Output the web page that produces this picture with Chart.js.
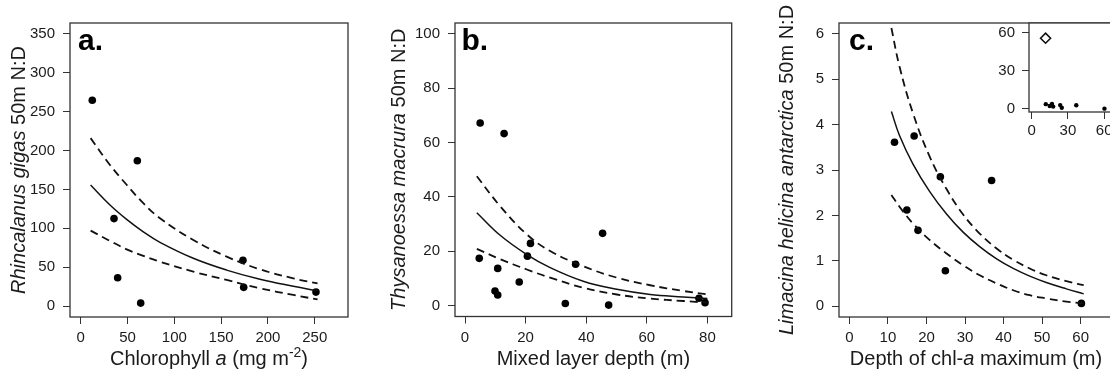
<!DOCTYPE html>
<html>
<head>
<meta charset="utf-8">
<script src="https://cdn.jsdelivr.net/npm/chart.js@4.4.1/dist/chart.umd.min.js"></script>
<style>
  html, body { margin: 0; padding: 0; background: #fff; }
  body { width: 1110px; height: 375px; overflow: hidden; position: relative; }
  canvas { position: absolute; top: 0; }
</style>
</head>
<body>
<canvas id="chartA" width="370" height="375" style="left:0"></canvas>
<canvas id="chartB" width="370" height="375" style="left:370px"></canvas>
<canvas id="chartC" width="380" height="375" style="left:740px"></canvas>
<canvas id="chartInset" width="130" height="140" style="left:990px"></canvas>
<script>
// a. Rhincalanus gigas vs chlorophyll a
const aChl   = [12.4, 60.5, 35.6, 39.5, 64.1, 173.3, 174.1, 251.3];
const aRatio = [264.6, 186.9, 112.5, 36.5, 3.9, 58.9, 24.1, 18.0];
const aCurveX = [10.6, 31.3, 49.1, 66.9, 84.7, 120.3, 155.9, 191.5, 227.1, 253.0];
const aFit    = [155.6, 130.0, 111.5, 95.5, 82.0, 61.5, 46.3, 34.5, 25.5, 19.7];
const aUpper  = [216.0, 181.5, 156.0, 132.3, 113.0, 85.0, 63.6, 47.3, 35.7, 29.2];
const aLower  = [97.1, 83.8, 73.0, 64.6, 57.1, 44.3, 33.6, 22.9, 14.3, 8.6];
const aXTicks = [0, 50, 100, 150, 200, 250];
const aYTicks = [0, 50, 100, 150, 200, 250, 300, 350];

// b. Thysanoessa macrura vs mixed layer depth
const bMld   = [5.0, 12.9, 4.7, 10.8, 9.9, 10.8, 17.9, 21.6, 20.6, 36.5, 45.4, 33.1, 47.4, 77.2, 79.2];
const bRatio = [67.2, 63.3, 17.4, 13.7, 5.4, 3.9, 8.7, 22.9, 18.2, 15.2, 26.6, 0.8, 0.2, 2.7, 1.1];
const bCurveX = [3.9, 11.6, 20.4, 28.1, 39.0, 50.1, 61.1, 72.0, 80.0];
const bFit    = [34.2, 25.9, 18.8, 14.0, 9.0, 6.0, 4.1, 3.2, 2.6];
const bUpper  = [47.6, 36.6, 26.2, 20.1, 14.5, 10.3, 7.5, 5.4, 4.1];
const bLower  = [20.9, 17.1, 13.3, 10.3, 6.6, 4.1, 2.6, 1.7, 1.1];
const bXTicks = [0, 20, 40, 60, 80];
const bYTicks = [0, 20, 40, 60, 80, 100];

// c. Limacina helicina antarctica vs depth of chl-a maximum
const cDepth = [11.7, 16.8, 23.6, 36.9, 14.9, 17.8, 24.9, 60.2];
const cRatio = [3.61, 3.75, 2.85, 2.77, 2.12, 1.67, 0.78, 0.06];
const cCurveX = [10.9, 13.0, 16.5, 20.8, 25.2, 29.5, 33.8, 38.2, 42.5, 46.8, 51.1, 56.3, 60.8];
const cFit    = [4.29, 3.76, 3.13, 2.53, 2.03, 1.63, 1.31, 1.04, 0.83, 0.66, 0.52, 0.38, 0.27];
const cUpper  = [6.13, 5.28, 4.25, 3.30, 2.58, 2.02, 1.60, 1.27, 1.02, 0.83, 0.68, 0.55, 0.46];
const cLower  = [2.45, 2.19, 1.82, 1.46, 1.16, 0.90, 0.68, 0.50, 0.35, 0.24, 0.17, 0.10, 0.06];
const cXTicks = [0, 10, 20, 30, 40, 50, 60];
const cYTicks = [0, 1, 2, 3, 4, 5, 6];
// inset: same stations plus the outlier
const cOutlierX = [11.5];
const cOutlierY = [55.6];
const insetTicks = [0, 30, 60];

const FONT = '"Liberation Sans", Arial, sans-serif';
const TEXT = '#1b1b1b';
const LINE = '#333';

const pts = (xs, ys) => xs.map((x, i) => ({ x: x, y: ys[i] }));

function axis(min, max, ticks, size, isX, pad) {
    return {
        type: 'linear',
        min: min,
        max: max,
        afterBuildTicks: (s) => { s.ticks = ticks.map(v => ({ value: v })); },
        afterFit: (s) => { if (isX) { s.height = size; } else { s.width = size; } },
        grid: { drawOnChartArea: false, drawTicks: true, tickLength: 7, color: LINE, lineWidth: 1 },
        border: { display: false },
        ticks: { color: TEXT, font: { family: FONT, size: 15 }, padding: pad, maxRotation: 0, autoSkip: false }
    };
}

function scatterSets(xs, ys, curveX, fit, upper, lower) {
    const curve = (data, dash, w) => ({
        data: pts(curveX, data),
        showLine: true,
        pointRadius: 0,
        borderColor: '#111',
        borderWidth: w,
        borderDash: dash,
        tension: 0.4
    });
    return [
        curve(fit, [], 1.5),
        curve(upper, [8, 5], 1.8),
        curve(lower, [8, 5], 1.8),
        { data: pts(xs, ys), pointRadius: 3.8, backgroundColor: '#000', borderWidth: 0, showLine: false }
    ];
}

// text made of pieces (italic words, superscripts)
function richText(ctx, parts, x, y, rotate) {
    ctx.save();
    let total = 0;
    parts.forEach(p => {
        ctx.font = (p.i ? 'italic ' : '') + (p.s || 20) + 'px ' + FONT;
        p.w = ctx.measureText(p.t).width;
        total += p.w;
    });
    ctx.translate(x, y);
    if (rotate) ctx.rotate(-Math.PI / 2);
    ctx.fillStyle = TEXT;
    ctx.textBaseline = 'alphabetic';
    ctx.textAlign = 'left';
    let cx = -total / 2;
    parts.forEach(p => {
        ctx.font = (p.i ? 'italic ' : '') + (p.s || 20) + 'px ' + FONT;
        ctx.fillText(p.t, cx, p.dy || 0);
        cx += p.w;
    });
    ctx.restore();
}

const decor = {
    id: 'decor',
    beforeDraw(chart, args, o) {
        if (o.whiteArea) {
            const a = chart.chartArea;
            chart.ctx.save();
            chart.ctx.fillStyle = '#fff';
            chart.ctx.fillRect(a.left, a.top, a.right - a.left, a.bottom - a.top);
            chart.ctx.restore();
        }
    },
    afterDraw(chart, args, o) {
        const ctx = chart.ctx;
        const a = chart.chartArea;
        ctx.save();
        ctx.strokeStyle = LINE;
        ctx.lineWidth = 1.3;
        ctx.strokeRect(a.left, a.top, a.right - a.left, a.bottom - a.top);
        if (o.label) {
            ctx.fillStyle = '#000';
            ctx.font = 'bold 30px ' + FONT;
            ctx.textBaseline = 'alphabetic';
            ctx.fillText(o.label, o.labelX, o.labelY);
        }
        ctx.restore();
        if (o.xTitle) richText(ctx, o.xTitle, (a.left + a.right) / 2, o.xTitleY, false);
        if (o.yTitle) richText(ctx, o.yTitle, o.yTitleX, (a.top + a.bottom) / 2, true);
    }
};

function panel(sets, xs, ys, pad, deco) {
    return {
        type: 'scatter',
        data: { datasets: sets },
        options: {
            responsive: false,
            animation: false,
            devicePixelRatio: 1,
            layout: { padding: pad },
            scales: { x: xs, y: ys },
            plugins: { legend: { display: false }, tooltip: { enabled: false }, decor: deco }
        },
        plugins: [decor]
    };
}

const configs = [
    {
        id: 'chartA',
        config: panel(
            scatterSets(aChl, aRatio, aCurveX, aFit, aUpper, aLower),
            axis(-11.4, 285.5, aXTicks, 58, true, 5),
            axis(-14, 364, aYTicks, 70, false, 8),
            { left: 0, top: 23, right: 22, bottom: 0 },
            {
                label: 'a.', labelX: 78, labelY: 50,
                xTitle: [{ t: 'Chlorophyll ' }, { t: 'a', i: true }, { t: ' (mg m' }, { t: '-2', s: 14, dy: -8 }, { t: ')' }],
                xTitleY: 365,
                yTitle: [{ t: 'Rhincalanus gigas', i: true }, { t: ' 50m N:D' }],
                yTitleX: 24.5
            })
    },
    {
        id: 'chartB',
        config: panel(
            scatterSets(bMld, bRatio, bCurveX, bFit, bUpper, bLower),
            axis(-3.3, 88, bXTicks, 58.5, true, 5),
            axis(-4, 104, bYTicks, 85, false, 8),
            { left: 0, top: 23, right: 8.3, bottom: 0 },
            {
                label: 'b.', labelX: 91.5, labelY: 50,
                xTitle: [{ t: 'Mixed layer depth (m)' }],
                xTitleY: 365,
                yTitle: [{ t: 'Thysanoessa macrura', i: true }, { t: ' 50m N:D' }],
                yTitleX: 35
            })
    },
    {
        id: 'chartC',
        config: panel(
            scatterSets(cDepth, cRatio, cCurveX, cFit, cUpper, cLower),
            axis(-2.7, 68.4, cXTicks, 58, true, 5),
            axis(-0.24, 6.24, cYTicks, 99, false, 8),
            { left: 0, top: 23, right: 7, bottom: 0 },
            {
                label: 'c.', labelX: 109, labelY: 49.5,
                xTitle: [{ t: 'Depth of chl-' }, { t: 'a', i: true }, { t: ' maximum (m)' }],
                xTitleY: 365,
                yTitle: [{ t: 'Limacina helicina antarctica', i: true }, { t: ' 50m N:D' }],
                yTitleX: 53
            })
    },
    {
        id: 'chartInset',
        config: panel(
            [
                { data: pts(cDepth, cRatio), pointRadius: 2.2, backgroundColor: '#000', borderWidth: 0 },
                { data: pts(cOutlierX, cOutlierY), pointStyle: 'rectRot', pointRadius: 5, backgroundColor: '#fff', borderColor: '#111', borderWidth: 1.6 }
            ],
            axis(-2.2, 67.6, insetTicks, 28, true, 3),
            axis(-2.6, 67.6, insetTicks, 39, false, 7),
            { left: 0, top: 23, right: 4, bottom: 0 },
            { whiteArea: true })
    }
];

configs.forEach(({ id, config }) => {
    new Chart(document.getElementById(id), config);
});
</script>
</body>
</html>
